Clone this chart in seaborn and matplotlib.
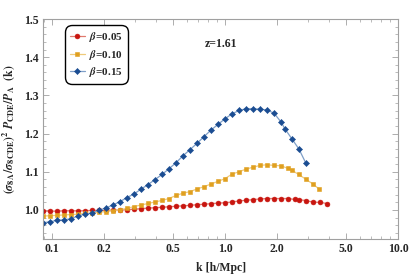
import numpy as np
import pandas as pd
import matplotlib
matplotlib.use("Agg")
import matplotlib.pyplot as plt
import seaborn as sns
from matplotlib.ticker import FixedLocator, NullFormatter, MultipleLocator

# ---- data ----
k_common = [0.0888, 0.0975, 0.107, 0.117, 0.129, 0.141, 0.155, 0.170, 0.187, 0.205,
            0.225, 0.247, 0.271, 0.298, 0.327, 0.359, 0.394, 0.432, 0.474, 0.521,
            0.572, 0.627, 0.689, 0.756, 0.830, 0.911, 1.000, 1.098, 1.205, 1.323,
            1.452, 1.594, 1.750, 1.921]

k_b05_tail = [2.108, 2.314, 2.540, 2.685, 2.947, 3.235, 3.550, 3.897]
k_b10_tail = [2.108, 2.314, 2.449, 2.667, 2.927, 3.213, 3.509]
k_b15_tail = [2.108, 2.220, 2.449, 2.674, 2.935]

ratio_b05 = [0.997, 0.997, 0.997, 0.998, 0.998, 0.998, 0.998, 0.999, 0.999, 0.999,
             1.000, 1.000, 1.001, 1.002, 1.0035, 1.005, 1.006, 1.007, 1.0085, 1.0097,
             1.011, 1.012, 1.014, 1.015, 1.0166, 1.018, 1.019, 1.021, 1.0237, 1.0255,
             1.027, 1.029, 1.030, 1.030,
             1.030, 1.030, 1.0275, 1.027, 1.0245, 1.0205, 1.020, 1.0166]
ratio_b10 = [0.984, 0.985, 0.986, 0.987, 0.988, 0.989, 0.991, 0.992, 0.994, 0.996,
             0.998, 1.001, 1.004, 1.009, 1.013, 1.017, 1.021, 1.025, 1.030, 1.038,
             1.044, 1.048, 1.055, 1.061, 1.068, 1.075, 1.082, 1.094, 1.100, 1.107,
             1.112, 1.1166, 1.1184, 1.1166,
             1.1158, 1.1087, 1.1034, 1.0929, 1.0808, 1.0684, 1.0545]
ratio_b15 = [0.9666, 0.9692, 0.9727, 0.9742, 0.9771, 0.9842, 0.9887, 0.9921, 0.9992, 1.0053,
             1.0132, 1.0218, 1.0324, 1.0421, 1.0545, 1.0666, 1.0797, 1.0929, 1.1079, 1.1237,
             1.1421, 1.1579, 1.1745, 1.1921, 1.2092, 1.2242, 1.2387, 1.2518, 1.2605, 1.2650,
             1.2650, 1.2639, 1.2618, 1.2534,
             1.2303, 1.2124, 1.1847, 1.1597, 1.1224]

labels = [r"$\beta$=0.05", r"$\beta$=0.10", r"$\beta$=0.15"]
x_ticks = [0.1, 0.2, 0.5, 1.0, 2.0, 5.0, 10.0]
x_ticklabels = ["0.1", "0.2", "0.5", "1.0", "2.0", "5.0", "10.0"]
y_ticks = [1.0, 1.1, 1.2, 1.3, 1.4, 1.5]
y_ticklabels = ["1.0", "1.1", "1.2", "1.3", "1.4", "1.5"]

# ---- style ----
sns.set_style("ticks")
plt.rcParams["font.family"] = ["Liberation Serif", "DejaVu Serif"]
plt.rcParams["font.weight"] = "bold"
plt.rcParams["mathtext.fontset"] = "stix"

fig = plt.figure(figsize=(4.15, 2.8), dpi=100)
ax = fig.add_axes([0.1043, 0.1464, 0.8547, 0.7857])

series = [
    (k_common + k_b05_tail, ratio_b05, "#c8150f", "#e07a6e", "o", 3.5),
    (k_common + k_b10_tail, ratio_b10, "#e0a020", "#efca7a", "s", 3.1),
    (k_common + k_b15_tail, ratio_b15, "#1b4d92", "#7f9fc8", "D", 3.1),
]
for (kx, vy, dark, light, mk, ms), lab in zip(series, labels):
    df = pd.DataFrame({"k": kx, "r": vy})
    sns.lineplot(data=df, x="k", y="r", ax=ax, color=light, linewidth=0.9,
                 marker=mk, markersize=ms, markerfacecolor=dark,
                 markeredgecolor=dark, markeredgewidth=0.4, label=lab,
                 estimator=None, sort=False)

ax.set_xscale("log")
ax.set_xlim(0.089, 10.0)
ax.set_ylim(0.924, 1.5)

ax.set_xticks(x_ticks)
ax.set_xticklabels(x_ticklabels)
minors = [0.09] + [0.1 * i for i in range(2, 10)] + [1.0 * i for i in range(2, 10)]
ax.xaxis.set_minor_locator(FixedLocator(minors))
ax.xaxis.set_minor_formatter(NullFormatter())
ax.set_yticks(y_ticks)
ax.set_yticklabels(y_ticklabels)
ax.yaxis.set_minor_locator(MultipleLocator(0.02))

frame_col = "#a0a0a0"
for sp in ax.spines.values():
    sp.set_visible(True)
    sp.set_color(frame_col)
    sp.set_linewidth(0.8)
ax.tick_params(which="both", direction="in", top=True, right=True,
               color=frame_col, labelsize=8.5, pad=3)
ax.tick_params(which="major", length=4, width=0.6)
ax.tick_params(which="minor", length=2, width=0.5)
for t in ax.get_xticklabels() + ax.get_yticklabels():
    t.set_fontweight("bold")

ax.set_xlabel("k [h/Mpc]", fontsize=8.5, fontweight="bold", labelpad=5)
ax.set_ylabel(r"$(\sigma_{8\,\Lambda}/\sigma_{8\,\mathrm{CDE}})^2\ P_{\mathrm{CDE}}/P_{\Lambda}\ \ (\mathrm{k})$",
              fontsize=8.5, labelpad=5)

ax.text(0.50, 0.885, "z=1.61", transform=ax.transAxes, fontsize=8.5,
        fontweight="bold", ha="center", va="center")

leg = ax.legend(loc="upper left", bbox_to_anchor=(0.062, 0.972), frameon=True,
                fancybox=True, fontsize=8, handlelength=1.3,
                borderpad=0.45, labelspacing=0.3, handletextpad=0.4,
                borderaxespad=0.0)
leg.get_frame().set_edgecolor("black")
leg.get_frame().set_linewidth(1.0)
leg.get_frame().set_alpha(1.0)
leg.get_frame().set_boxstyle("round", pad=0.0, rounding_size=0.6)
for t in leg.get_texts():
    t.set_fontweight("bold")

fig.savefig("out.png", dpi=100)
